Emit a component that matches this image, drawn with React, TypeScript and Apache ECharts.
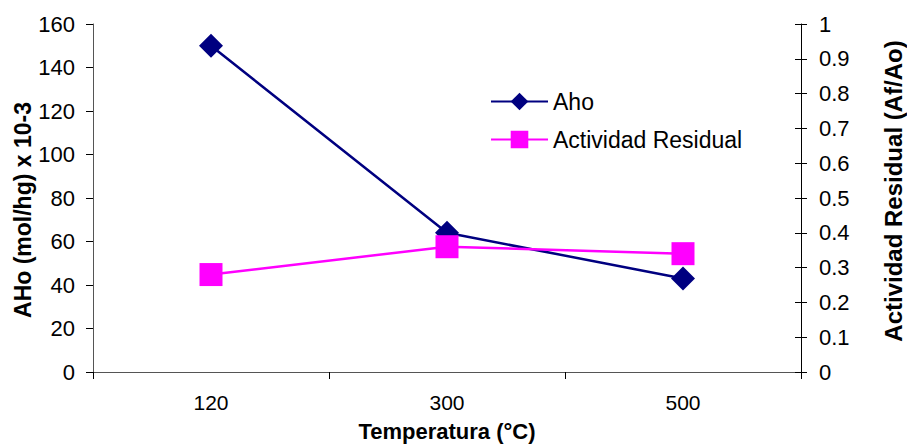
import React, { useEffect, useRef } from "react";
import * as echarts from "echarts";

const categories = ["120", "300", "500"];
const ahoValues = [150, 64, 43];
const actividadValues = [0.28, 0.36, 0.34];

const leftTitle = "AHo (mol/hg) x 10-3";
const rightTitle = "Actividad Residual (Af/Ao)";
const xTitle = "Temperatura (°C)";

const FONT = "'Liberation Sans', Arial, sans-serif";

export default function App() {
  const ref = useRef<HTMLDivElement>(null);
  useEffect(() => {
    if (!ref.current) return;
    const chart = echarts.init(ref.current, undefined, { renderer: "svg" });
    chart.setOption({
      animation: false,
      backgroundColor: "#ffffff",
      textStyle: { fontFamily: FONT },
      grid: { left: 93, right: 106, top: 24, bottom: 76, containLabel: false },
      legend: {
        orient: "vertical",
        left: 490,
        top: 90,
        padding: 0,
        itemWidth: 57,
        itemHeight: 22,
        itemGap: 15,
        textStyle: { fontFamily: FONT, fontSize: 23, color: "#000" },
        data: ["Aho", "Actividad Residual"],
      },
      graphic: [
        {
          type: "text",
          x: 23,
          y: 210,
          rotation: Math.PI / 2,
          style: {
            text: leftTitle,
            align: "center",
            verticalAlign: "middle",
            fontFamily: FONT,
            fontSize: 23,
            fontWeight: "bold",
            fill: "#000",
          },
        },
        {
          type: "text",
          x: 893,
          y: 191,
          rotation: Math.PI / 2,
          style: {
            text: rightTitle,
            align: "center",
            verticalAlign: "middle",
            fontFamily: FONT,
            fontSize: 24,
            fontWeight: "bold",
            fill: "#000",
          },
        },
      ],
      xAxis: {
        type: "category",
        data: categories,
        boundaryGap: true,
        axisLine: { lineStyle: { color: "#555", width: 1 } },
        axisTick: { show: true, inside: false, length: 7, lineStyle: { color: "#000" } },
        axisLabel: { fontFamily: FONT, fontSize: 21, color: "#000", margin: 20 },
        name: xTitle,
        nameLocation: "middle",
        nameGap: 48,
        nameTextStyle: { fontFamily: FONT, fontSize: 22, fontWeight: "bold", color: "#000" },
        splitLine: { show: false },
      },
      yAxis: [
        {
          type: "value",
          position: "left",
          min: 0,
          max: 160,
          interval: 20,
          axisLine: { show: true, lineStyle: { color: "#555", width: 1 } },
          axisTick: { show: true, inside: false, length: 7, lineStyle: { color: "#000" } },
          axisLabel: { fontFamily: FONT, fontSize: 22, color: "#000", margin: 18 },
          splitLine: { show: false },
        },
        {
          type: "value",
          position: "right",
          min: 0,
          max: 1,
          interval: 0.1,
          axisLine: { show: true, lineStyle: { color: "#000", width: 1 } },
          axisTick: { show: true, inside: false, length: 6, lineStyle: { color: "#000" } },
          axisLabel: { fontFamily: FONT, fontSize: 22, color: "#000", margin: 18 },
          splitLine: { show: false },
        },
        {
          type: "value",
          position: "right",
          min: 0,
          max: 1,
          interval: 0.1,
          axisLine: { show: false },
          axisTick: { show: true, inside: true, length: 6, lineStyle: { color: "#000" } },
          axisLabel: { show: false },
          splitLine: { show: false },
        },
      ],
      series: [
        {
          name: "Aho",
          type: "line",
          yAxisIndex: 0,
          data: ahoValues,
          symbol: "diamond",
          symbolSize: 24,
          lineStyle: { color: "#000080", width: 2.5 },
          itemStyle: { color: "#000080" },
        },
        {
          name: "Actividad Residual",
          type: "line",
          yAxisIndex: 1,
          data: actividadValues,
          symbol: "rect",
          symbolSize: 23,
          lineStyle: { color: "#ff00ff", width: 2.5 },
          itemStyle: { color: "#ff00ff" },
        },
      ],
    });
    return () => chart.dispose();
  }, []);
  return <div ref={ref} style={{ width: 907, height: 448, position: "absolute", left: 0, top: 0 }} />;
}
